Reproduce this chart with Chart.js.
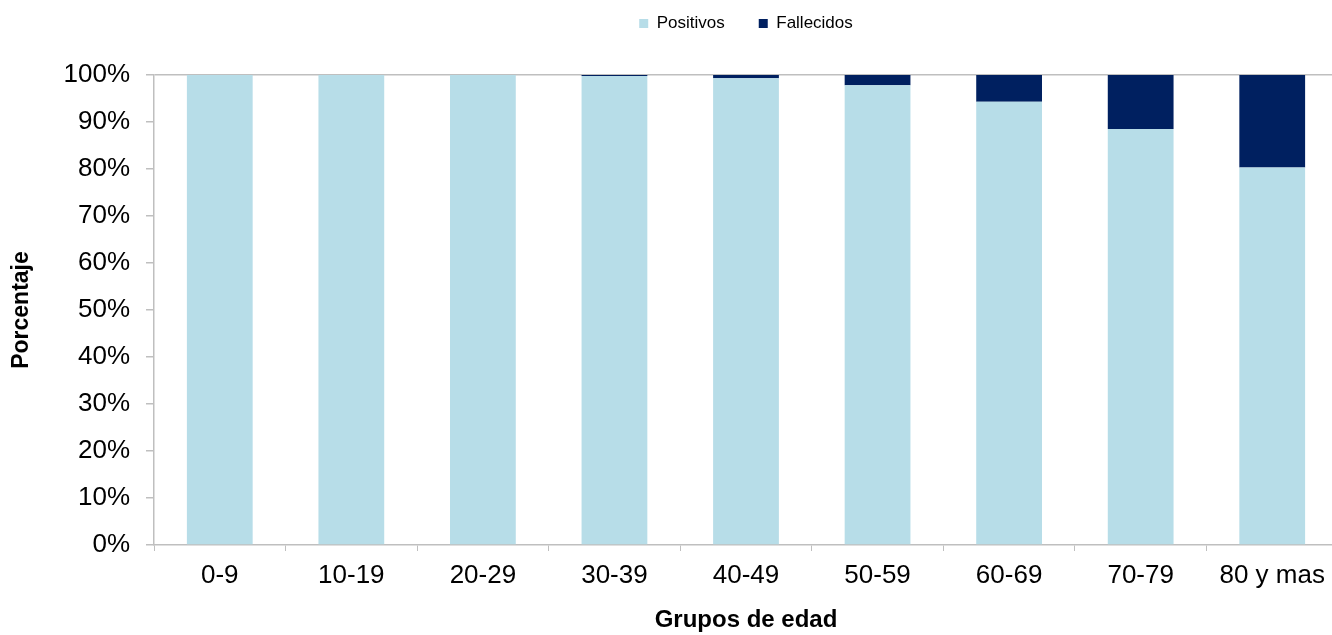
<!DOCTYPE html>
<html>
<head>
<meta charset="utf-8">
<script src="https://cdn.jsdelivr.net/npm/chart.js@4.4.0/dist/chart.umd.min.js"></script>
<style>
  html, body { margin: 0; padding: 0; background: #fff; overflow: hidden; }
  #wrap { position: relative; width: 1338px; height: 635px; }
</style>
</head>
<body>
<div id="wrap"><canvas id="edadChart"></canvas></div>
<script>
// Grupos de edad y porcentajes
const grupos = ["0-9", "10-19", "20-29", "30-39", "40-49", "50-59", "60-69", "70-79", "80 y mas"];
const positivos = [100, 100, 100, 99.8, 99.3, 97.8, 94.3, 88.5, 80.3];
const fallecidos = [0, 0, 0, 0.2, 0.7, 2.2, 5.7, 11.5, 19.7];
const yTicks = [0, 10, 20, 30, 40, 50, 60, 70, 80, 90, 100];

const gris = "#bfbfbf";
const fuente = "'Liberation Sans', Arial, sans-serif";

// legend box: fixed height so the plot starts at y=75, items moved up a bit
const legendBox = {
  id: "legendBox",
  beforeInit(chart) {
    const origFit = chart.legend.fit;
    chart.legend.fit = function () {
      origFit.call(this);
      this.height = 75;
    };
  },
  afterLayout(chart) {
    chart.legend.top -= 19;
    chart.legend.bottom -= 19;
  },
};

document.addEventListener("DOMContentLoaded", function () {
  const ctx = document.getElementById("edadChart").getContext("2d");
  new Chart(ctx, {
    type: "bar",
    data: {
      labels: grupos,
      datasets: [
        {
          label: "Positivos",
          data: positivos,
          backgroundColor: "#b7dde8",
          categoryPercentage: 1,
          barPercentage: 0.5,
        },
        {
          label: "Fallecidos",
          data: fallecidos,
          backgroundColor: "#002060",
          categoryPercentage: 1,
          barPercentage: 0.5,
        },
      ],
    },
    options: {
      responsive: true,
      maintainAspectRatio: false,
      animation: false,
      layout: { padding: 0 },
      plugins: {
        legend: {
          position: "top",
          fullSize: false,
          labels: {
            boxWidth: 9,
            boxHeight: 9,
            padding: 34,
            color: "#000",
            font: { family: fuente, size: 17 },
          },
        },
        tooltip: { enabled: true },
      },
      scales: {
        x: {
          stacked: true,
          grid: {
            offset: true,
            drawOnChartArea: false,
            tickLength: 6,
            tickColor: gris,
          },
          border: { display: true, color: gris, width: 1.5 },
          ticks: {
            color: "#000",
            padding: 9,
            maxRotation: 0,
            font: { family: fuente, size: 26 },
          },
          title: {
            display: true,
            text: "Grupos de edad",
            color: "#000",
            padding: { top: 10, bottom: 0 },
            font: { family: fuente, size: 24, weight: "bold" },
          },
          afterFit: (scale) => { scale.height = 90; },
        },
        y: {
          stacked: true,
          min: 0,
          max: 100,
          afterBuildTicks: (scale) => {
            scale.ticks = yTicks.map((v) => ({ value: v }));
          },
          grid: {
            drawOnChartArea: true,
            color: (c) => (c.tick && c.tick.value === 100 ? gris : "transparent"),
            lineWidth: 1.5,
            tickLength: 8,
            tickColor: gris,
          },
          border: { display: true, color: gris, width: 1.5 },
          ticks: {
            color: "#000",
            padding: 16,
            font: { family: fuente, size: 26 },
            callback: (v) => v + "%",
          },
          title: {
            display: true,
            text: "Porcentaje",
            color: "#000",
            padding: { top: 8, bottom: 0 },
            font: { family: fuente, size: 23, weight: "bold" },
          },
          afterFit: (scale) => { scale.width = 154; },
        },
      },
    },
    plugins: [legendBox],
  });
});
</script>
</body>
</html>
